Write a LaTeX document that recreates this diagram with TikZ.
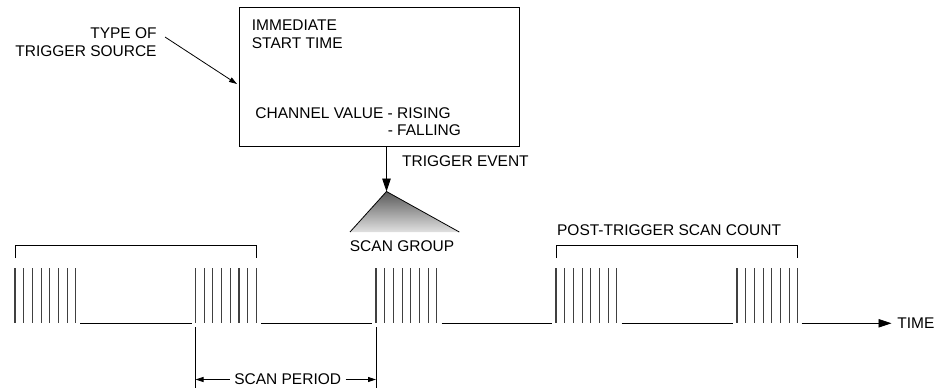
\documentclass[tikz,border=0pt]{standalone}
\usepackage{fontspec}
\setmainfont{Liberation Sans}
\usetikzlibrary{positioning,arrows.meta}

\begin{document}
\begin{tikzpicture}[x=1pt, y=-1pt, line width=0.8pt,
  lbl/.style={inner sep=0pt, font=\fontsize{15.5}{18.5}\selectfont},
  pulse/.style={line width=1.1pt, black!75},
  bigtip/.style={-{Triangle[length=13pt,width=8.5pt]}},
  smalltip/.style={-{Triangle[length=8pt,width=5pt]}}]
\useasboundingbox (0,0) rectangle (937,388);

% trigger source box
\node[draw, line width=0.9pt, minimum width=280pt, minimum height=139pt, anchor=north west, inner sep=0pt] (box) at (239,7) {};
\node[lbl, anchor=base west, align=left] (immed) at (251.5,48.5) {IMMEDIATE\\START TIME};
\node[lbl, anchor=base west, align=left, font=\fontsize{15.5}{16.8}\selectfont] (chan) at (255,135) {CHANNEL VALUE - RISING\\\phantom{CHANNEL VALUE }- FALLING};
\node[lbl, anchor=base east, align=right] (src) at (157,56.5) {TYPE OF\\TRIGGER SOURCE};
\coordinate (srcfrom) at (165,37);
\coordinate (srcto) at (237,84);
\draw[smalltip] (srcfrom) -- (srcto);

% trigger event and scan group
\coordinate (apex) at (386.5,191.5);
\draw[bigtip] (box.south -| apex) -- (apex);
\node[lbl, anchor=base west] (event) at (401.7,166.7) {TRIGGER EVENT};
\shade[top color=black!65, bottom color=black!12] (apex) -- (350,232) -- (459.3,232) -- cycle;
\draw (350,232) -- (apex) -- (459.3,232);
\node[lbl, anchor=base] (group) at (402,251.7) {SCAN GROUP};

% scans along the time line
\foreach \s in {15,195.5,376,556,737}
  \foreach \i in {0,...,7}
    \draw[pulse] ({\s+\i*8.7},268) -- ({\s+\i*8.7},323.3);
\foreach \a/\b in {80/191.5,261/371.5,441.5/551.5,621.5/732.5}
  \draw (\a,323.3) -- (\b,323.3);
\node[lbl, anchor=west] (time) at (897,323.3) {TIME};
\coordinate (tstart) at (801.5,323.3);
\draw[bigtip, shorten >=5.5pt] (tstart) -- (time.west);

% brackets
\draw (15,258) |- (256.7,245) -- (256.7,258);
\draw (556,258) |- (797.7,245) -- (797.7,258);
\node[lbl, anchor=base west] (post) at (556.7,235) {POST-TRIGGER SCAN COUNT};

% scan period
\draw (195.5,327) -- (195.5,388);
\draw (376,327) -- (376,388);
\node[lbl] (period) at (287.7,379.5) {SCAN PERIOD};
\coordinate (pl) at (195.5,379.5);
\coordinate (pr) at (376,379.5);
\draw[smalltip, shorten <=4pt] (period.west) -- (pl);
\draw[smalltip, shorten <=4pt] (period.east) -- (pr);
\end{tikzpicture}
\end{document}
